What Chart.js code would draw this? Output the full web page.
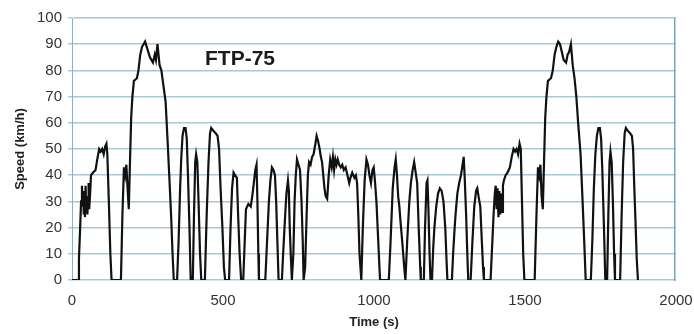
<!DOCTYPE html>
<html>
<head>
<meta charset="utf-8">
<script src="https://cdn.jsdelivr.net/npm/chart.js@4"></script>
<style>
  html, body { margin: 0; padding: 0; background: #ffffff; }
  #wrap { width: 694px; height: 334px; position: relative; }
</style>
</head>
<body>
<div id="wrap"><canvas id="c" width="694" height="334"></canvas></div>
<script>
const timeS = [
  0, 20, 23, 27, 30, 33, 35, 37, 39, 41, 43, 45, 47, 49, 51, 53, 55, 57, 60, 63, 70, 78, 85, 90, 95, 100, 105, 110, 114, 117, 122, 127, 131,
  162, 167, 172, 176, 180, 184, 188, 192, 196, 200, 205, 215, 220, 226, 232, 242, 250, 258, 268, 274, 278, 283, 290, 296, 303, 310, 317, 322, 328, 333, 337,
  348, 353, 358, 362, 366, 371, 376, 380, 384, 389, 393,
  400, 404, 408, 411, 415, 419, 424, 428,
  440, 446, 452, 457, 461, 468, 476, 482, 487, 492, 498, 503, 507,
  520, 525, 530, 535, 540, 546, 550, 555, 560,
  567, 572, 576, 584, 592, 598, 603, 607, 611, 614, 617, 619,
  640, 646, 652, 657, 662, 667, 672, 676, 680, 684,
  695, 700, 706, 710, 715, 718, 721, 725, 728, 733, 737, 741, 745, 750, 755, 760, 764, 767,
  772, 777, 781, 785, 790, 795, 800, 806, 810, 815, 820, 824, 828, 832, 836, 840, 845, 850, 855, 860, 864, 868, 872, 876, 880, 885, 890, 895, 900, 906, 912, 918, 922, 928, 935, 940, 944, 948, 952, 958,
  963, 969, 975, 980, 985, 990, 995, 999, 1003, 1008, 1014, 1020,
  1049, 1055, 1062, 1068, 1072, 1076, 1080, 1084, 1088, 1094, 1100, 1104,
  1110, 1117, 1122, 1128, 1133, 1138, 1143, 1148, 1153, 1155,
  1165, 1169, 1174, 1177, 1180, 1184, 1187,
  1192, 1196, 1200, 1206, 1212, 1218, 1224, 1230, 1236, 1240, 1243,
  1258, 1262, 1266, 1270, 1276, 1282, 1288, 1292, 1297, 1300, 1305, 1309, 1312,
  1320, 1326, 1332, 1338, 1342, 1346, 1352, 1357, 1361, 1364,
  1386, 1390, 1396, 1400, 1403, 1406, 1409, 1412, 1415, 1418, 1421, 1424, 1427, 1430, 1436, 1442, 1450, 1456, 1462, 1467, 1472, 1477, 1482, 1486, 1490, 1494, 1498,
  1532, 1538, 1543, 1547, 1551, 1555, 1559, 1563, 1567, 1571, 1576, 1586, 1592, 1598, 1604, 1610, 1616, 1622, 1628, 1636, 1641, 1646, 1652, 1658, 1664, 1670, 1676, 1684, 1690, 1696, 1701,
  1718, 1723, 1728, 1733, 1738, 1743, 1748, 1752, 1756, 1761, 1766,
  1772, 1776, 1780, 1783, 1787, 1791, 1795, 1798,
  1815, 1820, 1825, 1830, 1834, 1840, 1848, 1854, 1858, 1862, 1866, 1870, 1874
];
const speedKmh = [
  0, 0, 8, 20, 30, 36, 28, 34, 25, 33, 24, 36, 27, 32, 25, 30, 37, 27, 33, 40, 41, 42, 47, 50, 49, 50, 48, 51, 52, 48, 30, 10, 0,
  0, 25, 43, 40, 44, 35, 27, 45, 62, 70, 76, 77, 80, 86, 89, 91, 88, 85, 83, 86, 84, 90, 82, 80, 74, 68, 52, 40, 25, 10, 0,
  0, 15, 35, 47, 55, 58, 58, 54, 40, 20, 0,
  0, 25, 45, 48, 45, 30, 10, 0,
  0, 25, 45, 56, 58, 57, 56, 55, 50, 35, 20, 5, 0,
  0, 20, 35, 41, 40, 39, 25, 10, 0,
  0, 15, 27, 29, 28, 33, 38, 42, 44, 30, 10, 0,
  0, 15, 30, 38, 43, 42, 40, 30, 15, 0,
  0, 12, 25, 33, 38, 34, 20, 8, 0, 10, 30, 40, 46, 44, 42, 30, 15, 0,
  5, 25, 40, 45, 44, 47, 48, 52, 55, 53, 50, 47, 45, 40, 35, 32, 31, 40, 46, 43, 47, 42, 46, 44, 46, 44, 43, 44, 42, 43, 40, 37, 39, 41, 39, 40, 37, 25, 10, 0,
  20, 38, 46, 44, 40, 37, 42, 43, 38, 30, 15, 0,
  0, 15, 35, 43, 46, 40, 32, 28, 22, 14, 5, 0,
  15, 30, 37, 42, 45, 41, 37, 20, 5, 0,
  0, 20, 37, 38, 28, 10, 0,
  0, 12, 20, 28, 33, 35, 34, 30, 20, 8, 0,
  0, 10, 18, 25, 33, 37, 40, 43, 47, 40, 25, 10, 0,
  0, 15, 28, 34, 35, 32, 28, 15, 5, 0,
  0, 10, 25, 33, 36, 27, 35, 24, 34, 25, 33, 26, 36, 38, 40, 41, 43, 47, 50, 49, 50, 48, 52, 50, 30, 10, 0,
  0, 25, 43, 40, 44, 32, 27, 45, 62, 70, 76, 77, 80, 86, 89, 91, 90, 87, 84, 83, 86, 87, 90, 82, 77, 70, 60, 48, 32, 15, 0,
  0, 15, 35, 48, 55, 58, 58, 54, 42, 22, 0,
  0, 25, 45, 49, 45, 30, 10, 0,
  0, 25, 45, 56, 58, 57, 56, 55, 50, 35, 22, 8, 0
];
const xTicks = [0, 500, 1000, 1500, 2000];
const yTicks = [0, 10, 20, 30, 40, 50, 60, 70, 80, 90, 100];
const chartTitle = "FTP-75";
const xTitle = "Time (s)";
const yTitle = "Speed (km/h)";

const points = timeS.map((t, i) => ({ x: t, y: speedKmh[i] }));

const frame = {
  id: 'frame',
  afterDraw(chart) {
    const { ctx, chartArea: a } = chart;
    ctx.save();
    ctx.fillStyle = '#7fa3b8';
    ctx.fillRect(Math.round(a.right) - 2, Math.round(a.top), 1.5, Math.round(a.bottom - a.top) + 1);
    ctx.fillStyle = '#1a1a1a';
    ctx.font = 'bold 21px "Liberation Sans", Arial, sans-serif';
    ctx.textAlign = 'center';
    ctx.textBaseline = 'middle';
    ctx.fillText(chartTitle, a.left + 168, a.top + 41);
    ctx.restore();
  }
};

new Chart(document.getElementById('c'), {
  type: 'line',
  data: {
    datasets: [{
      data: points,
      borderColor: '#111111',
      borderWidth: 2.2,
      pointRadius: 0,
      tension: 0,
      fill: false
    }]
  },
  options: {
    responsive: false,
    animation: false,
    devicePixelRatio: 1,
    layout: { padding: { top: 18, right: 0, left: 0, bottom: 0 } },
    plugins: { legend: { display: false }, tooltip: { enabled: false } },
    scales: {
      x: {
        type: 'linear',
        min: 0, max: 2000,
        afterBuildTicks(scale) { scale.ticks = xTicks.map(v => ({ value: v })); },
        afterFit(scale) { scale.height = 54; scale.paddingRight = 18; },
        grid: { display: false, drawTicks: false },
        border: { display: false },
        ticks: {
          color: '#333333',
          font: { family: '"Liberation Sans", Arial, sans-serif', size: 15 },
          padding: 12,
          maxRotation: 0,
          callback: (v) => String(v)
        },
        title: {
          display: true, text: xTitle, color: '#222222',
          font: { family: '"Liberation Sans", Arial, sans-serif', size: 13, weight: 'bold' },
          padding: { top: 0, bottom: 4 }
        }
      },
      y: {
        min: 0, max: 100,
        afterBuildTicks(scale) { scale.ticks = yTicks.map(v => ({ value: v })); },
        afterFit(scale) { scale.width = 72; },
        grid: { color: '#a9c8d8', lineWidth: 1.5, tickLength: 4, drawTicks: true },
        border: { display: true, color: '#8fb0c2' },
        ticks: {
          color: '#333333',
          font: { family: '"Liberation Sans", Arial, sans-serif', size: 15 },
          padding: 6,
          callback: (v) => String(v)
        },
        title: {
          display: true, text: yTitle, color: '#222222',
          font: { family: '"Liberation Sans", Arial, sans-serif', size: 13, weight: 'bold' },
          padding: { top: 13, bottom: 0 }
        }
      }
    }
  },
  plugins: [frame]
});
</script>
</body>
</html>
